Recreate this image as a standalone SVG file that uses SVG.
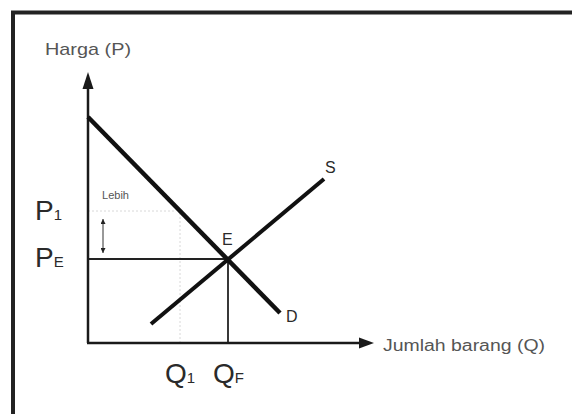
<svg xmlns="http://www.w3.org/2000/svg" width="572" height="414" viewBox="0 0 572 414">
<defs>
<style>
.ax{stroke:#1a1a1a;stroke-width:2.5;fill:none}
.curve{stroke:#111;fill:none;stroke-linecap:butt}
.guide{stroke:#222;stroke-width:1.8;fill:none}
.faint{stroke:#d8d8d8;stroke-width:1;stroke-dasharray:2 2;fill:none}
.big{font-family:"Liberation Sans",Arial,sans-serif;fill:#2a2a2a}
.lbl{font-family:"Liberation Sans",Arial,sans-serif;fill:#555}
</style>
<marker id="ah" viewBox="0 0 10 10" refX="10" refY="5" markerWidth="5" markerHeight="5" orient="auto-start-reverse" markerUnits="userSpaceOnUse">
<path d="M0,0 L10,5 L0,10 z" fill="#222"/>
</marker>
</defs>
<rect width="572" height="414" fill="#fff"/>
<g id="frame">
<path d="M13,414 L13,12.5 L572,12.5" stroke="#222" stroke-width="4" fill="none"/>
</g>
<g id="connectors">
<line class="faint" x1="88" y1="211" x2="176" y2="211"/>
<line class="faint" x1="180" y1="213" x2="180" y2="342"/>
<line class="guide" x1="88" y1="259" x2="228" y2="259"/>
<line class="guide" x1="228" y1="259" x2="228" y2="343" stroke-width="1.5"/>
<line x1="103" y1="219" x2="103" y2="253" stroke="#333" stroke-width="1" marker-start="url(#ah)" marker-end="url(#ah)"/>
</g>
<g id="axes">
<line class="ax" x1="88" y1="343" x2="88" y2="88"/>
<path d="M88,72 L82.5,89 L93.5,89 z" fill="#1a1a1a"/>
<line class="ax" x1="87" y1="343" x2="360" y2="343"/>
<path d="M374,343 L359,337.5 L359,348.5 z" fill="#1a1a1a"/>
</g>
<g id="demand">
<line class="curve" x1="88" y1="117" x2="280" y2="313" stroke-width="4.5"/>
<text class="big" x="286" y="322" font-size="16">D</text>
</g>
<g id="supply">
<line class="curve" x1="151" y1="324" x2="324" y2="179" stroke-width="4"/>
<text class="big" x="325" y="173" font-size="16">S</text>
</g>
<g id="equilibrium">
<text class="big" x="222" y="245" font-size="16">E</text>
</g>
<g id="labels">
<text class="lbl" x="45" y="55" font-size="17" textLength="86" lengthAdjust="spacingAndGlyphs">Harga (P)</text>
<text class="lbl" x="383" y="351" font-size="16" textLength="162" lengthAdjust="spacingAndGlyphs">Jumlah barang (Q)</text>
<text class="lbl" x="102" y="199" font-size="10" textLength="27" lengthAdjust="spacingAndGlyphs">Lebih</text>
<text class="big" x="35" y="220" font-size="28">P<tspan font-size="15" dy="0">1</tspan></text>
<text class="big" x="35" y="267" font-size="28">P<tspan font-size="15">E</tspan></text>
<text class="big" x="165" y="383" font-size="28">Q<tspan font-size="15">1</tspan></text>
<text class="big" x="213" y="383" font-size="28">Q<tspan font-size="15">F</tspan></text>
</g>
</svg>
